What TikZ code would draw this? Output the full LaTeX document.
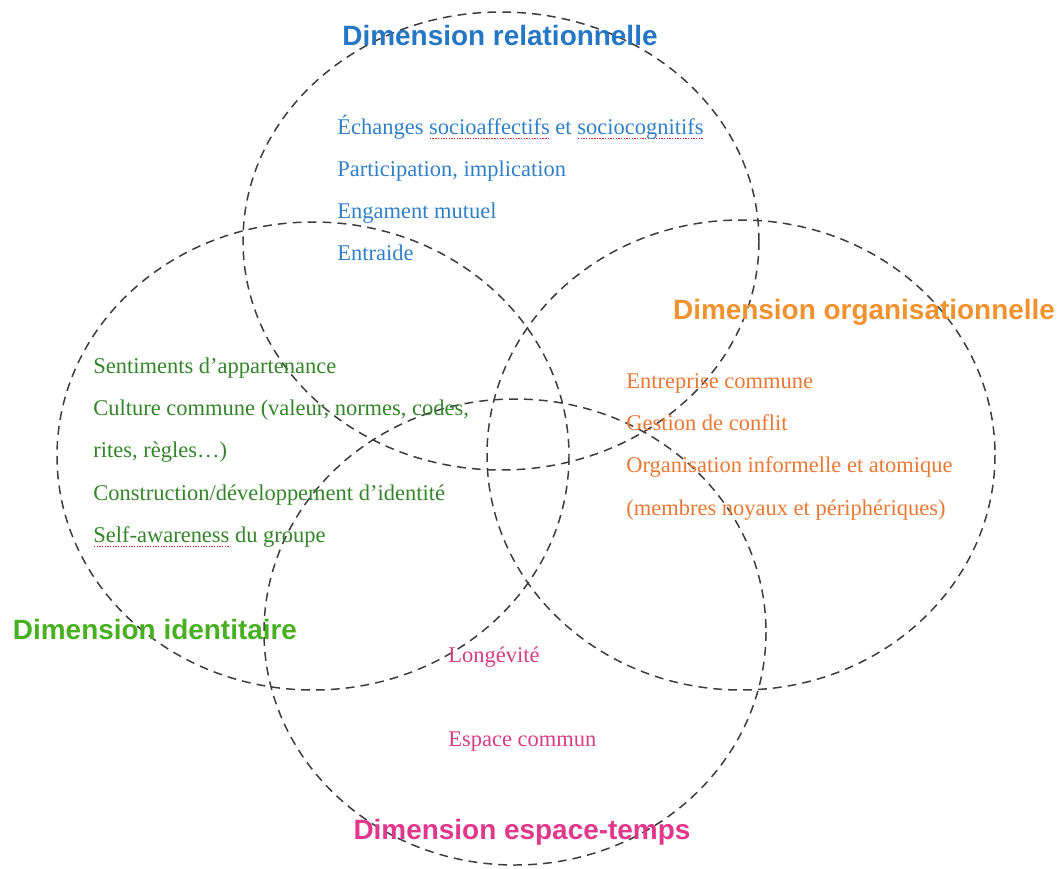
\documentclass[tikz,border=0pt]{standalone}
\usepackage{fontspec}
\setmainfont{Liberation Serif}
\newfontfamily\dimfont{Liberation Sans}
\usetikzlibrary{positioning}

% red spell-check dots under a word
\newcommand{\spellmark}[1]{\setbox0\hbox{#1}\leavevmode\rlap{\raisebox{-2.4pt}{\textcolor{spell_red}{\hbox to \wd0{\xleaders\hbox to 1.5pt{\hss\rule{0.8pt}{0.6pt}\hss}\hfill}}}}\box0\relax}

\begin{document}
\begin{tikzpicture}[
    x=0.02cm, y=-0.02cm,
]

\definecolor{rel_title}{RGB}{38,118,198}
\definecolor{rel_text}{RGB}{48,128,200}
\definecolor{id_title}{RGB}{72,176,32}
\definecolor{id_text}{RGB}{52,132,42}
\definecolor{org_title}{RGB}{240,146,46}
\definecolor{org_text}{RGB}{234,120,50}
\definecolor{st_title}{RGB}{226,56,140}
\definecolor{st_text}{RGB}{214,62,132}
\definecolor{spell_red}{RGB}{225,40,40}
\definecolor{ring_color}{RGB}{60,60,60}

\tikzstyle{dimring} = [dash pattern=on 5pt off 3.5pt, draw=ring_color, line width=.85pt]
\tikzstyle{dimtitle} = [inner sep=0pt, font=\dimfont\bfseries\fontsize{15.9}{19}\selectfont, text height=11.5pt, text depth=3pt]
\tikzstyle{bodytext} = [inner sep=0pt, anchor=west, font=\fontsize{12.8}{15}\selectfont, text height=9.1pt, text depth=2.9pt]

\useasboundingbox (0,0) rectangle (1059,869);

% the four dimensions
\draw[dimring] (501,241) ellipse [x radius=258, y radius=229];
\draw[dimring] (313,456) ellipse [x radius=256, y radius=234];
\draw[dimring] (741,455) ellipse [x radius=254, y radius=235];
\draw[dimring] (515,632) ellipse [x radius=251, y radius=233];

\node (reltitle) [dimtitle, text=rel_title] at (500,38) {Dimension relationnelle};
\node (orgtitle) [dimtitle, text=org_title] at (864,312) {Dimension organisationnelle};
\node (idtitle) [dimtitle, text=id_title] at (155,632) {Dimension identitaire};
\node (sttitle) [dimtitle, text=st_title] at (522,832) {Dimension espace-temps};

\node (rel1) [bodytext, text=rel_text] at (337,129) {Échanges \spellmark{socioaffectifs} et \spellmark{sociocognitifs}};
\node (rel2) [bodytext, text=rel_text, below=0.84cm of rel1.west, anchor=west] {Participation, implication};
\node (rel3) [bodytext, text=rel_text, below=0.84cm of rel2.west, anchor=west] {Engament mutuel};
\node (rel4) [bodytext, text=rel_text, below=0.84cm of rel3.west, anchor=west] {Entraide};

\node (id1) [bodytext, text=id_text] at (93,368) {Sentiments d’appartenance};
\node (id2) [bodytext, text=id_text, below=0.845cm of id1.west, anchor=west] {Culture commune (valeur, normes, codes,};
\node (id3) [bodytext, text=id_text, below=0.845cm of id2.west, anchor=west] {rites, règles…)};
\node (id4) [bodytext, text=id_text, below=0.845cm of id3.west, anchor=west] {Construction/développement d’identité};
\node (id5) [bodytext, text=id_text, below=0.845cm of id4.west, anchor=west] {\spellmark{Self-awareness} du groupe};

\node (org1) [bodytext, text=org_text] at (626,383) {Entreprise commune};
\node (org2) [bodytext, text=org_text, below=0.845cm of org1.west, anchor=west] {Gestion de conflit};
\node (org3) [bodytext, text=org_text, below=0.845cm of org2.west, anchor=west] {Organisation informelle et atomique};
\node (org4) [bodytext, text=org_text, below=0.845cm of org3.west, anchor=west] {(membres noyaux et périphériques)};

\node (st1) [bodytext, text=st_text] at (448,657) {Longévité};
\node (st2) [bodytext, text=st_text, below=1.68cm of st1.west, anchor=west] {Espace commun};

\end{tikzpicture}
\end{document}
